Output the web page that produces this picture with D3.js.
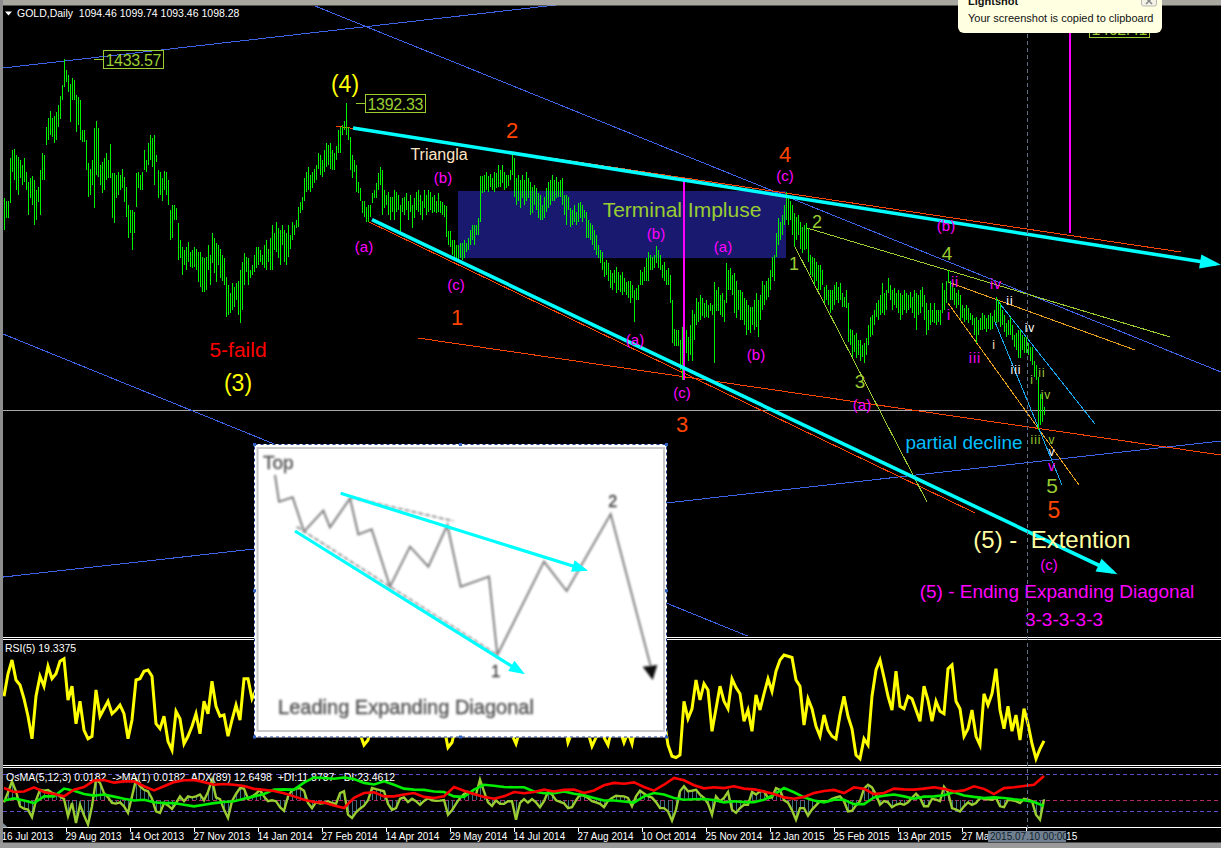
<!DOCTYPE html>
<html><head><meta charset="utf-8">
<style>html,body{margin:0;padding:0;background:#000;overflow:hidden}svg{display:block}text{white-space:pre}</style>
<script src="https://cdn.jsdelivr.net/npm/d3@7/dist/d3.min.js"></script>
</head><body><svg id="c" width="1221" height="848"></svg>
<script>
const highs=[
1303,1301,1301,1341,1348,1349,1344,1342,1339,1334,1341,1328,1318,1322,1324,1320,1311,1314,1330,1346,
1344,1370,1378,1385,1378,1380,1384,1391,1399,1409,1434,1423,1419,1410,1416,1414,1400,1398,1395,1367,
1367,1358,1336,1331,1339,1369,1376,1369,1334,1337,1341,1346,1339,1354,1327,1327,1325,1328,1325,1331,
1323,1314,1297,1292,1292,1290,1327,1328,1325,1328,1348,1339,1355,1362,1360,1362,1344,1330,1328,1322,
1329,1328,1320,1292,1297,1297,1294,1280,1264,1257,1255,1257,1262,1253,1255,1257,1256,1253,1253,1248,
1247,1248,1259,1250,1271,1266,1261,1259,1256,1250,1247,1229,1222,1214,1224,1220,1224,1226,1236,1243,
1252,1248,1247,1236,1241,1250,1257,1257,1255,1250,1259,1264,1256,1266,1278,1271,1281,1275,1273,1278,
1273,1271,1278,1269,1281,1278,1283,1295,1300,1304,1322,1328,1332,1325,1328,1331,1334,1346,1344,1339,
1348,1355,1353,1355,1348,1346,1352,1367,1370,1372,1376,1392,1370,1361,1344,1339,1334,1318,1313,1301,
1301,1295,1297,1297,1308,1311,1317,1327,1332,1330,1311,1306,1309,1304,1304,1311,1309,1306,1297,1303,
1304,1308,1301,1306,1297,1303,1309,1311,1306,1301,1311,1306,1311,1309,1304,1306,1301,1308,1301,1300,
1297,1296,1272,1272,1264,1264,1259,1259,1261,1261,1264,1261,1266,1273,1278,1278,1278,1285,1324,1324,
1325,1328,1324,1326,1322,1328,1327,1334,1330,1334,1328,1325,1325,1330,1346,1341,1322,1325,1320,1325,
1320,1328,1322,1318,1314,1316,1313,1308,1306,1297,1304,1313,1318,1320,1325,1320,1323,1318,1320,1322,
1306,1306,1304,1294,1292,1297,1290,1299,1300,1297,1292,1290,1283,1280,1278,1273,1269,1259,1255,1253,
1243,1245,1242,1236,1233,1236,1239,1234,1231,1234,1228,1225,1226,1226,1222,1217,1219,1222,1236,1234,
1239,1247,1253,1250,1248,1250,1258,1255,1250,1241,1243,1236,1238,1231,1208,1181,1180,1180,1170,1182,
1175,1180,1173,1184,1198,1195,1210,1206,1212,1210,1205,1208,1203,1205,1203,1225,1217,1220,1212,1214,
1208,1242,1236,1238,1231,1233,1226,1217,1217,1215,1210,1208,1203,1201,1201,1208,1214,1208,1212,1226,
1222,1226,1228,1236,1248,1250,1271,1285,1281,1287,1297,1309,1304,1301,1297,1289,1286,1287,1281,1276,
1278,1280,1275,1250,1248,1247,1243,1241,1241,1236,1220,1222,1217,1217,1217,1222,1225,1220,1224,1214,
1211,1217,1205,1181,1180,1175,1177,1170,1170,1166,1167,1172,1184,1192,1194,1198,1205,1208,1212,1224,
1214,1217,1228,1222,1217,1219,1214,1217,1214,1212,1217,1214,1212,1215,1211,1217,1214,1212,1217,1220,
1212,1205,1198,1205,1198,1205,1198,1198,1198,1224,1217,1226,1236,1226,1224,1219,1214,1217,1212,1203,
1200,1203,1200,1196,1194,1191,1192,1189,1191,1196,1194,1191,1194,1196,1193,1198,1211,1208,1205,1198,
1194,1186,1189,1192,1184,1175,1177,1180,1180,1175,1173,1173,1167,1164,1164,1151,1147,1136,1120,1120,1107];
const lows=[
1273,1285,1285,1299,1328,1320,1311,1306,1322,1316,1318,1311,1287,1303,1297,1278,1283,1300,1287,1320,
1320,1353,1358,1362,1361,1355,1358,1370,1377,1395,1407,1412,1403,1375,1395,1395,1365,1372,1358,1356,
1356,1330,1304,1306,1316,1294,1325,1323,1316,1308,1311,1320,1322,1322,1285,1280,1303,1306,1311,1313,
1300,1286,1266,1271,1255,1271,1295,1313,1311,1311,1330,1328,1334,1339,1332,1316,1337,1303,1306,1301,
1311,1306,1297,1264,1266,1283,1283,1245,1247,1231,1241,1236,1243,1239,1238,1239,1236,1225,1220,1215,
1215,1217,1236,1222,1242,1233,1225,1241,1228,1226,1222,1192,1194,1196,1198,1201,1208,1194,1186,1198,
1222,1234,1222,1228,1231,1234,1238,1241,1243,1241,1238,1236,1243,1236,1236,1255,1253,1247,1241,1259,
1243,1241,1248,1256,1264,1269,1275,1276,1289,1292,1301,1309,1311,1309,1313,1317,1320,1331,1325,1323,
1328,1332,1334,1331,1330,1330,1339,1346,1346,1362,1367,1362,1358,1330,1322,1328,1309,1308,1301,1289,
1286,1281,1281,1286,1299,1303,1303,1311,1316,1287,1294,1297,1287,1283,1290,1283,1290,1292,1271,1290,
1287,1292,1283,1290,1275,1285,1292,1290,1287,1283,1294,1287,1290,1292,1289,1290,1289,1290,1289,1287,
1286,1267,1259,1257,1250,1247,1245,1243,1247,1245,1247,1253,1255,1259,1264,1259,1269,1269,1281,1308,
1309,1311,1309,1314,1311,1309,1313,1314,1314,1317,1311,1313,1315,1320,1325,1304,1297,1301,1294,1303,
1297,1301,1303,1287,1289,1297,1292,1285,1283,1283,1285,1290,1294,1297,1301,1301,1303,1304,1304,1297,
1287,1278,1292,1276,1278,1281,1278,1281,1285,1281,1285,1266,1266,1264,1259,1255,1250,1247,1242,1236,
1229,1231,1226,1219,1217,1224,1214,1217,1215,1212,1215,1212,1210,1205,1210,1187,1208,1208,1222,1222,
1226,1226,1226,1236,1236,1238,1242,1238,1236,1228,1226,1222,1222,1205,1167,1165,1165,1165,1142,1133,
1147,1158,1151,1156,1151,1170,1184,1187,1189,1193,1191,1192,1191,1197,1194,1149,1197,1197,1194,1192,
1187,1205,1217,1217,1212,1196,1191,1198,1189,1189,1184,1175,1180,1177,1184,1180,1182,1173,1189,1198,
1203,1208,1211,1217,1229,1226,1248,1259,1264,1269,1278,1283,1278,1283,1269,1257,1264,1269,1256,1252,
1255,1256,1243,1231,1229,1222,1226,1217,1217,1222,1205,1208,1203,1196,1198,1203,1208,1205,1208,1201,
1201,1200,1168,1166,1154,1159,1153,1156,1151,1154,1149,1156,1166,1173,1175,1184,1192,1189,1194,1196,
1194,1198,1214,1208,1198,1203,1200,1196,1189,1194,1198,1196,1198,1200,1196,1191,1180,1194,1196,1201,
1189,1175,1180,1184,1187,1186,1184,1187,1184,1196,1198,1205,1224,1208,1208,1203,1200,1203,1189,1191,
1187,1189,1186,1189,1184,1175,1167,1175,1180,1180,1181,1178,1181,1180,1181,1187,1186,1187,1182,1184,
1178,1173,1175,1175,1170,1164,1161,1153,1153,1161,1158,1158,1156,1151,1147,1136,1133,1086,1091,1093,1100];
const rsi=[
55,73,84,68,64,53,39,21,55,71,63,79,69,73,83,85,52,63,33,51,28,21,23,60,39,45,51,41,44,48,41,21,36,68,69,75,76,71,33,29,39,19,12,43,37,17,23,31,41,25,51,41,67,47,39,40,23,36,48,36,69,69,53,
60,45,35,50,62,55,40,30,45,58,66,52,38,28,40,55,70,62,48,35,42,60,72,66,50,36,25,
16,20,35,55,70,75,66,52,40,32,48,62,70,58,42,30,38,50,60,45,30,14,18,32,50,65,72,60,44,34,46,60,68,56,40,30,26,24,17,28,45,60,68,55,40,30,42,58,64,50,36,18,26,40,52,38,26,15,22,35,22,16,30,42,28,18,26,17,35,50,62,70,60,48,40,
37,16,7,6,8,51,37,45,68,52,65,60,27,45,63,51,45,69,62,57,35,44,27,56,44,57,69,59,75,84,88,87,86,68,63,32,53,45,31,23,40,28,23,21,40,55,39,29,8,5,21,16,55,76,84,70,55,44,75,47,45,55,53,44,35,63,52,35,51,43,41,77,80,51,45,23,29,44,23,16,57,48,57,77,44,29,47,27,40,20,45,33,17,5,13,19.3375];
const osma=[
-.08,.25,.62,.29,-.21,-.29,-.32,-.57,-.01,.34,.31,.33,.24,.2,.12,.03,-.54,-.1,-.77,-.16,-.51,-.82,-.21,.68,.57,.23,.09,-.1,-.12,-.08,-.21,-.43,.12,.68,.46,.34,.29,.04,-.38,-.43,-.1,-.18,-.3,-.1,.12,-.04,.12,.09,.12,.18,-.01,.27,.67,.09,.03,-.32,-.6,-.04,.2,.4,.38,.04,.12,.21,.34,.12,-.04,-.01,-.04,-.24,-.36,.12,.32,.38,.4,.31,-.1,-.27,-.07,-.12,-.1,-.04,-.1,-.13,.23,.29,-.49,
-.6,-.41,-.29,-.19,-.01,.4,.36,.33,.29,-.13,-.33,-.27,.04,.09,-.07,.04,-.04,-.16,-.03,.06,-.01,-.03,-.02,0,-.49,-.34,-.13,.07,.2,.27,.22,.18,.68,.29,-.08,-.2,-.01,-.13,-.13,-.04,-.04,-.66,-.1,.03,-.09,.03,-.08,-.24,-.04,.27,.18,-.01,-.06,-.11,-.27,-.24,-.01,.18,.14,.07,-.04,-.08,-.13,-.24,-.03,.07,.14,.13,.12,.07,-.21,.12,.31,.22,.13,.08,-.07,-.27,-.27,-.38,-.69,-.32,.29,.46,.29,.31,.34,
.18,.07,-.12,-.49,.12,-.04,.07,.27,-.32,-.43,-.27,-.16,-.16,.27,.18,.29,.29,.07,.09,.4,.34,-.01,-.09,-.34,-.66,-.27,-.27,-.52,-.32,-.18,-.04,-.04,-.04,.04,.09,.12,-.04,-.38,-.36,-.18,-.04,.38,.51,.42,.18,-.16,-.04,-.08,-.24,-.16,-.12,-.16,-.08,.07,.21,.07,-.21,-.21,.04,.01,-.04,.44,.26,-.27,-.32,-.38,-.21,-.08,-.16,-.1,.07,.04,.02,.01,.07,-.21,-.24,.01,-.01,-.04,-.1,.04,.01,-.04,-.49,-.66,.0182];
const diMinus=[
18.8,17.3,17.5,19.1,17.3,16.5,15.6,18.2,19.2,21.7,21.9,20.9,21.4,21.4,19.5,17.9,19.5,21.1,21.8,21.9,21.1,20.1,20.4,20.1,19.6,18.5,18.1,17.7,16.8,15.6,14.3,13.4,13.2,12.1,11.1,
15,16.9,17.2,15.6,15.6,16.3,16.9,15.4,15,15.6,19.2,17.8,16.5,15.4,14.7,15.6,17.3,16.8,17.3,18.2,17.5,18.1,18.2,16.9,17.9,19.9,20.8,20.5,21,19.2,17.8,20.1,22.7,21.8,19.9,
18.7,19.1,18.8,19.5,18.6,18.3,17.5,16.5,15.2,14.7,15.4,16.9,17.7,18.1,16.9,19.1,18.5,16.5,16.9,18.6,18.3,18.2,18.6,19.1,18.5,17.5,17.9,19.5,18.5,16.5,18.8,19.1,19.6,20.1,23.46];
const diPlus=[
14,14.8,14,13,15.6,15.6,18.6,17.8,16.5,15.9,16.3,15.5,14.7,14,14.3,13.3,13,13,12.4,11.75,12.4,13,13.4,13.7,14.7,15.6,16.5,18.2,18.3,18.2,20.9,22.9,22.7,22.4,22.9,
22.3,20.8,20.2,21.4,20.1,18.6,18.2,18.1,17.5,17.3,15.6,15.4,18.2,20.1,19.7,19.2,19.1,19.1,17.5,16.8,16.8,17.5,16.6,16,15,14,14,13.6,13.2,15.6,16.9,16.3,15,14.3,14.5,
14.6,14.2,13.3,13.7,13.4,13.4,14.3,16.3,18.8,17.2,15.2,14,13.3,14.3,14.3,12.6,12.6,15.2,15.9,16.3,15.6,14.7,15.5,15.6,16,17.2,15.9,15.4,15,15.2,15,14.5,14.1,13.4,11.88];
const tickLabels=["16 Jul 2013","29 Aug 2013","14 Oct 2013","27 Nov 2013","14 Jan 2014","27 Feb 2014","14 Apr 2014","29 May 2014","14 Jul 2014","27 Aug 2014","10 Oct 2014","25 Nov 2014","12 Jan 2015","25 Feb 2015","13 Apr 2015","27 May 2015","10 Jul 2015"];
// trend lines in [bar, price, bar, price]
const blueLines=[[-.5,1425.25,276,1484.3],[155.5,1483.4,608.5,1140.25],[-.5,1175.9,373,891.8],[-.5,948,608.5,1075.6]];
const redLines=[[182.5,1280.9,485.5,1008.1],[166,1370.9,588.5,1252.75],[207,1172.1,608.5,1062.4]];
const oliveLines=[[401.5,1275.25,583,1173.1],[395.5,1257.4,461.5,1018.4]];
const orangeLines=[[472,1224.6,565.5,1160.9],[472,1204.9,537.5,1034.3]];
const skyLines=[[495.5,1187.1,529,1034.3],[496.5,1207.75,545.5,1091.5]];
const cyanLines=[[174.5,1369,606,1241.5],[184,1283,554.5,952.75]];
const magentaLines=[[340,1322,340,1132.75],[533,1458,533,1270.6]];
const zoneBars=[227,391],zonePrices=[1310,1247];
const crossPrice=1104.6,crossBar=511.5;
// bar of the tag's box, price
const priceTags=[[49.5,1433.57],[180.5,1392.33],[542.5,1462.41]];
const insetPath=[[75,105],[87,185],[128,172],[162,275],[220,212],[240,262],[300,175],[325,283],[365,268],[420,440],[480,320],[535,380],[592,255],[632,440],[717,410],[742,645],[882,365],[950,453],[1082,222],[1205,690]];
const insetGuides=[[[140,260],[420,440],[742,645]],[[300,172],[610,243]]];
const insetCyan=[[272,160,1000,388],[135,273,812,695]];

const OR="#ff4500",MG="#ff00ff",YG="#9acd32",WH="#ffffff";
const notes=[
["(4)",345,84,23,"#ffff00"],["2",512,130,22,OR],["Triangla",439,154,16,"#ffe4c4"],["(b)",443,178,15,MG],["(a)",364,247,15,MG],["(c)",456,285,15,MG],["1",457,317,22,OR],
["5-faild",238,349,21,"#ff0000"],["(3)",238,383,23,"#ffff00"],["4",785,154,22,OR],["(c)",785,176,15,MG],["Terminal Impluse",682,209,21,YG],["(b)",656,234,15,MG],["(a)",723,247,15,MG],
["(a)",635,340,15,MG],["(b)",756,355,15,MG],["(c)",682,393,15,MG],["3",682,424,22,OR],["2",817,222,18,YG],["1",794,264,18,YG],["3",860,381,19,YG],["(a)",862,405,15,MG],["4",947,253,19,YG],["(b)",946,226,15,MG],
["ii",955,282,14,MG],["iv",996,284,14,MG],["i",949,315,14,MG],["iii",975,358,14,MG],["ii",1010,301,12,WH],["iv",1030,328,12,WH],["i",994,345,12,"#ffe4c4"],["iii",1016,370,12,WH],["i",1032,380,12,YG],["ii",1042,373,12,YG],["iv",1046,395,12,YG],["iii",1036,440,12,YG],["v",1052,440,12,YG],["v",1052,452,12,WH],["v",1052,466,14,MG],
["5",1052,485,21,YG],["5",1054,510,23,OR],["partial decline",964,442,19,"#00bfff"],["(5) -  Extention",1052,539,24,"#ffffa0"],["(c)",1049,565,15,MG],["(5) - Ending Expanding Diagonal",1057,591,19,MG],["3-3-3-3-3",1064,619,19,MG]];

const svg=d3.select("#c");
const AR="'Liberation Sans',Arial,sans-serif",UI="'Liberation Sans',Tahoma,sans-serif";
const defs=svg.append("defs");
defs.append("filter").attr("id","blur").append("feGaussianBlur").attr("stdDeviation",.8);
const x=d3.scaleLinear().domain([0,520]).range([4,1044]);
const y=d3.scaleLinear().domain([1489,1114]).range([0,400]);
const yR=d3.scaleLinear().domain([0,100]).range([765,640]);
const yO=d3.scaleLinear().domain([-1,1]).range([830,770]);
const yD=d3.scaleLinear().domain([0,26.55]).range([836.8,768]);

svg.append("rect").attr("width",1221).attr("height",848).attr("fill","#000");
// zone
svg.append("rect").attr("x",x(zoneBars[0])).attr("width",x(zoneBars[1])-x(zoneBars[0])).attr("y",y(zonePrices[0])).attr("height",y(zonePrices[1])-y(zonePrices[0])).attr("fill","#191970");
// guides
svg.append("line").attr("x1",3).attr("x2",1221).attr("y1",y(crossPrice)).attr("y2",y(crossPrice)).attr("stroke","#a8a8a8").attr("shape-rendering","crispEdges");
function seg(g,data,color,w,crisp){
  g.selectAll(null).data(data).join("line").attr("x1",d=>x(d[0])).attr("y1",d=>y(d[1])).attr("x2",d=>x(d[2])).attr("y2",d=>y(d[3])).attr("stroke",color).attr("stroke-width",w).attr("shape-rendering",crisp?"crispEdges":"auto");
}
const main=svg.append("g");
seg(main,blueLines,"#3f63e6",1,true);
seg(main,redLines,"#ff4500",1,true);
seg(main,oliveLines,"#9acd32",1,true);
seg(main,orangeLines,"#e8a020",1,true);
seg(main,skyLines,"#19a8f0",1,true);
// bars
main.append("g").selectAll("line").data(highs).join("line")
 .attr("x1",(d,i)=>x(i)).attr("x2",(d,i)=>x(i)).attr("y1",d=>y(d)).attr("y2",(d,i)=>y(lows[i]))
 .attr("stroke","#00f000").attr("stroke-width",1).attr("shape-rendering","crispEdges");
seg(main,magentaLines,MG,2.5,true);
seg(main,cyanLines,"#00ffff",3.6,false);
// arrow heads on cyan lines
cyanLines.forEach(d=>{
  const a=Math.atan2(y(d[3])-y(d[1]),x(d[2])-x(d[0])),X=x(d[2]),Y=y(d[3]),L=16,W=7;
  const ca=Math.cos(a),sa=Math.sin(a);
  main.append("path").attr("fill","#00ffff").attr("d",d3.line()([[X+ca*5,Y+sa*5],[X-ca*L-sa*W,Y-sa*L+ca*W],[X-ca*L+sa*W,Y-sa*L-ca*W]])+"Z");
});
// price tags
priceTags.forEach(([b,p])=>{
  const bx=Math.round(x(b))+.5,by=Math.round(y(p))+.5;
  const g=svg.append("g");
  g.append("line").attr("x1",bx-10).attr("x2",bx).attr("y1",by).attr("y2",by).attr("stroke",YG).attr("shape-rendering","crispEdges");
  g.append("rect").attr("x",bx).attr("y",by-9).attr("width",60).attr("height",18).attr("fill","none").attr("stroke",YG).attr("shape-rendering","crispEdges");
  g.append("text").attr("x",bx+30).attr("y",by+6).attr("text-anchor","middle").attr("font-family",AR).attr("font-size",16).attr("fill",YG).attr("textLength",56).attr("font-weight",300).text(p.toFixed(2));
});
// text notes
svg.append("g").selectAll("text").data(notes).join("text").attr("x",d=>d[1]).attr("y",d=>d[2]).attr("dy",".36em").attr("text-anchor","middle")
 .attr("font-family",AR).attr("font-size",d=>d[3]).attr("fill",d=>d[4]).attr("letter-spacing",d=>/^[iv]+$/.test(d[0])?1:0).text(d=>d[0]);
// header
svg.append("path").attr("d","M5 11.5h7l-3.5 4z").attr("fill","#fff");
svg.append("text").attr("x",17).attr("y",17).attr("font-family",UI).attr("font-size",10.5).attr("fill","#fff").text("GOLD,Daily  1094.46 1099.74 1093.46 1098.28");

// panes
const dbl=[637.5,639.5,765.5,767.5];
svg.append("rect").attr("x",3).attr("y",636).attr("width",1218).attr("height",5).attr("fill","#000");
svg.append("g").selectAll("line").data(dbl.concat([827.5])).join("line").attr("x1",3).attr("x2",1221).attr("y1",d=>d).attr("y2",d=>d).attr("stroke","#fff").attr("shape-rendering","crispEdges");
svg.append("text").attr("x",5).attr("y",652).attr("font-family",UI).attr("font-size",10.5).attr("fill","#fff").text("RSI(5) 19.3375");
svg.append("path").datum(rsi).attr("d",d3.line().x((d,i)=>x(i*2)).y(d=>yR(d))).attr("fill","none").attr("stroke","#ffff00").attr("stroke-width",3).attr("stroke-linejoin","miter");
// indicator levels
[[774.5,"#5a4fc8"],[800,"#b02a6a"],[811.5,"#5a4fc8"]].forEach(([ly,c])=>svg.append("line").attr("x1",3).attr("x2",1221).attr("y1",ly).attr("y2",ly).attr("stroke",c).attr("stroke-dasharray","4 3").attr("shape-rendering","crispEdges"));
svg.append("g").selectAll("line").data(osma).join("line").attr("x1",(d,i)=>x(i*2)).attr("x2",(d,i)=>x(i*2)).attr("y1",yO(0)).attr("y2",d=>yO(d)).attr("stroke","#3f7080").attr("shape-rendering","crispEdges");
svg.append("path").datum(osma).attr("d",d3.line().x((d,i)=>x(i*2)).y(d=>yO(d))).attr("fill","none").attr("stroke","#9acd32").attr("stroke-width",2.4);
svg.append("text").attr("x",6).attr("y",781).attr("font-family",UI).attr("font-size",10.5).attr("fill","#fff").text("OsMA(5,12,3) 0.0182  ->MA(1) 0.0182  ADX(89) 12.6498  +DI:11.8787  -DI:23.4612");
const dl=d3.line().x((d,i)=>x(i*5)).y(d=>yD(d));
svg.append("path").datum(diPlus).attr("d",dl).attr("fill","none").attr("stroke","#00ee00").attr("stroke-width",2.6);
svg.append("path").datum(diMinus).attr("d",dl).attr("fill","none").attr("stroke","#ff0000").attr("stroke-width",2.6);

// axis
const tv=tickLabels.map((d,i)=>-1+32*i);
const ax=d3.axisBottom(x).tickValues(tv).tickFormat((d,i)=>tickLabels[i]).tickSize(4).tickSizeOuter(0);
const ag=svg.append("g").attr("transform","translate(0,827.5)").call(ax);
ag.select(".domain").remove();
ag.selectAll("line").attr("stroke","#fff").attr("shape-rendering","crispEdges");
ag.selectAll("text").attr("fill","#fff").attr("text-anchor","start").attr("font-family",UI).attr("font-size",10).attr("dx",-1).attr("y",5).attr("dy",".72em");
// crosshair
svg.append("line").attr("x1",x(crossBar)).attr("x2",x(crossBar)).attr("y1",6).attr("y2",831).attr("stroke","#5f7088").attr("stroke-dasharray","4 3").attr("shape-rendering","crispEdges");
svg.append("rect").attr("x",988).attr("y",831).attr("width",78).attr("height",11).attr("fill","#708090");
svg.append("text").attr("x",990).attr("y",840).attr("font-family",UI).attr("font-size",10).attr("fill","#10202c").text("2015.07.10 00:00");

// inset picture
const ix=d3.scaleLinear().domain([0,1260]).range([250,670]);
const iy=d3.scaleLinear().domain([0,900]).range([440,740]);
const ins=svg.append("g");
ins.append("rect").attr("x",254.5).attr("y",444.5).attr("width",412).attr("height",292.5).attr("fill","#fff");
ins.append("rect").attr("x",257.5).attr("y",448).attr("width",406.5).attr("height",283).attr("fill","none").attr("stroke","#c8c8c8").attr("stroke-width",2);
const blur=ins.append("g").attr("filter","url(#blur)");
const il=d3.line().x(d=>ix(d[0])).y(d=>iy(d[1]));
blur.append("path").datum(insetPath).attr("d",il).attr("fill","none").attr("stroke","#808080").attr("stroke-width",2);
insetGuides.forEach(g=>blur.append("path").datum(g).attr("d",il).attr("fill","none").attr("stroke","#909090").attr("stroke-width",1.8).attr("stroke-dasharray","5 2"));
blur.append("path").attr("d",il([[1178,680],[1222,675],[1208,720]])+"Z").attr("fill","#111");
[["Top",85,65,19,"#555"],["2",1088,183,16,"#444"],["1",737,695,16,"#444"],["Leading Expanding Diagonal",468,800,20,"#555"]].forEach(t=>
 blur.append("text").attr("x",ix(t[1])).attr("y",iy(t[2])).attr("dy",".36em").attr("text-anchor","middle").attr("font-family",AR).attr("font-size",t[3]).attr("fill",t[4]).attr("stroke",t[4]).attr("stroke-width",.4).text(t[0]));
insetCyan.forEach(d=>{
  ins.append("line").attr("x1",ix(d[0])).attr("y1",iy(d[1])).attr("x2",ix(d[2])).attr("y2",iy(d[3])).attr("stroke","#00ffff").attr("stroke-width",3.2);
  const a=Math.atan2(iy(d[3])-iy(d[1]),ix(d[2])-ix(d[0])),X=ix(d[2]),Y=iy(d[3]),L=11,W=6,ca=Math.cos(a),sa=Math.sin(a);
  ins.append("path").attr("fill","#00ffff").attr("d",d3.line()([[X+ca*5,Y+sa*5],[X-ca*L-sa*W,Y-sa*L+ca*W],[X-ca*L+sa*W,Y-sa*L-ca*W]])+"Z");
});
ins.append("rect").attr("x",254.5).attr("y",444.5).attr("width",412).attr("height",292.5).attr("fill","none").attr("stroke","#fff");
ins.append("rect").attr("x",254.5).attr("y",444.5).attr("width",412).attr("height",292.5).attr("fill","none").attr("stroke","#1f3f8f").attr("stroke-dasharray","3 3");
[254.5,460.5,666.5].forEach(hx=>[444.5,590.75,737].forEach(hy=>{if(hx!==460.5||hy!==590.75)ins.append("rect").attr("x",hx-1.5).attr("y",hy-1.5).attr("width",3).attr("height",3).attr("fill","#3060c0");}));

// window frame
svg.append("rect").attr("width",1221).attr("height",5.5).attr("fill","#a8a8a0");
svg.append("rect").attr("width",3).attr("height",848).attr("fill","#8e8e8e");
svg.append("rect").attr("y",842.5).attr("width",1221).attr("height",5.5).attr("fill","#9a9a9a");
svg.append("path").attr("d","M3 823L8 827.5H3Z").attr("fill","#7a8a9a");

// popup
svg.append("path").attr("d","M958 -4H1162V27a6 6 0 0 1-6 6H964a6 6 0 0 1-6-6Z").attr("fill","#ffffe1");
svg.append("rect").attr("x",1141.5).attr("y",-6).attr("width",15).attr("height",12).attr("rx",2).attr("fill","#f2f2e6").attr("stroke","#b8b8b0");
svg.append("path").attr("d","M1146 -2l6 6m0-6l-6 6").attr("stroke","#888").attr("stroke-width",1.5).attr("fill","none");
svg.append("text").attr("x",968).attr("y",5).attr("font-family",UI).attr("font-size",11).attr("font-weight",700).attr("fill","#111").text("Lightshot");
svg.append("text").attr("x",968).attr("y",22).attr("font-family",UI).attr("font-size",11).attr("fill","#111").text("Your screenshot is copied to clipboard");
</script></body></html>
